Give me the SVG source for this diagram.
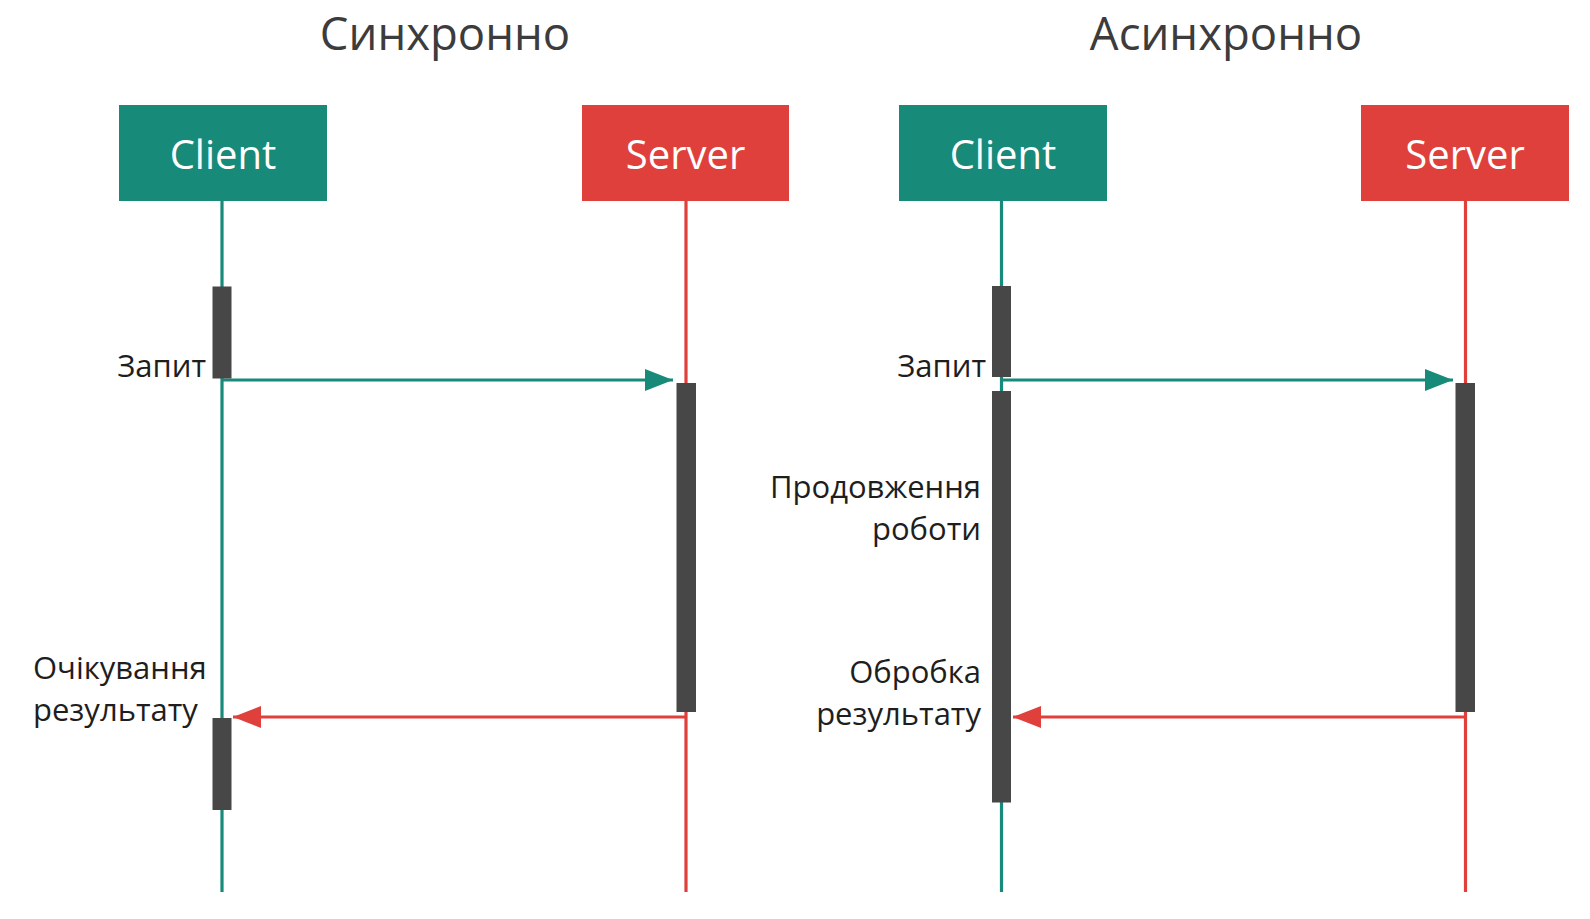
<svg xmlns="http://www.w3.org/2000/svg" width="1590" height="919" viewBox="0 0 1590 919">
<defs>
<style>
.title{font-family:"Open Sans","Noto Sans",sans-serif;font-size:45.5px;fill:#3c3c3c;text-anchor:middle}
.hdr{font-family:"Open Sans","Noto Sans",sans-serif;font-size:40px;fill:#ffffff;text-anchor:middle}
.lbl{font-family:"Open Sans","Noto Sans",sans-serif;font-size:31px;fill:#1e1e1e}
.r{text-anchor:end}
.client{fill:#178a7a}
.server{fill:#e0403c}
.bar{fill:#474747}
.lc{stroke:#178a7a;stroke-width:3.2;fill:none}
.ls{stroke:#e0403c;stroke-width:3.2;fill:none}
</style>
<marker id="ah-t" viewBox="0 0 28 22" refX="28" refY="11" markerWidth="28" markerHeight="22" markerUnits="userSpaceOnUse" orient="auto">
<path d="M0,0 L28,11 L0,22 Z" fill="#178a7a"/>
</marker>
<marker id="ah-r" viewBox="0 0 28 22" refX="28" refY="11" markerWidth="28" markerHeight="22" markerUnits="userSpaceOnUse" orient="auto">
<path d="M0,0 L28,11 L0,22 Z" fill="#e0403c"/>
</marker>
</defs>
<rect width="1590" height="919" fill="#ffffff"/>

<text class="title" x="445" y="50">Синхронно</text>
<text class="title" x="1226" y="50">Асинхронно</text>

<g id="lifelines">
<line class="lc" x1="222" y1="201" x2="222" y2="892"/>
<line class="ls" x1="686" y1="201" x2="686" y2="892"/>
<line class="lc" x1="1001.5" y1="201" x2="1001.5" y2="892"/>
<line class="ls" x1="1465.5" y1="201" x2="1465.5" y2="892"/>
</g>

<g id="connectors">
<line class="lc" x1="222" y1="380" x2="673" y2="380" marker-end="url(#ah-t)"/>
<line class="ls" x1="686" y1="717" x2="233" y2="717" marker-end="url(#ah-r)"/>
<line class="lc" x1="1001.5" y1="380" x2="1453" y2="380" marker-end="url(#ah-t)"/>
<line class="ls" x1="1465.5" y1="717" x2="1013" y2="717" marker-end="url(#ah-r)"/>
</g>

<g id="sync-client">
<rect class="client" x="119" y="105" width="208" height="96"/>
<text class="hdr" x="223" y="169">Client</text>
</g>
<g id="sync-server">
<rect class="server" x="582" y="105" width="207" height="96"/>
<text class="hdr" x="685.5" y="169">Server</text>
</g>
<g id="async-client">
<rect class="client" x="899" y="105" width="208" height="96"/>
<text class="hdr" x="1003" y="169">Client</text>
</g>
<g id="async-server">
<rect class="server" x="1361" y="105" width="208" height="96"/>
<text class="hdr" x="1465" y="169">Server</text>
</g>

<g id="sync-bars">
<rect class="bar" x="212.5" y="286.5" width="19" height="92"/>
<rect class="bar" x="676.5" y="383" width="19.5" height="329"/>
<rect class="bar" x="212.5" y="718" width="19" height="92"/>
</g>
<g id="async-bars">
<rect class="bar" x="992" y="286" width="19" height="91"/>
<rect class="bar" x="992" y="391" width="19" height="411.5"/>
<rect class="bar" x="1455.5" y="383" width="19.5" height="329"/>
</g>

<g id="sync-labels">
<text class="lbl r" x="206" y="377">Запит</text>
<text class="lbl" x="33" y="679">Очікування</text>
<text class="lbl" x="33" y="721">результату</text>
</g>
<g id="async-labels">
<text class="lbl r" x="986" y="377">Запит</text>
<text class="lbl r" x="981" y="498">Продовження</text>
<text class="lbl r" x="981" y="540">роботи</text>
<text class="lbl r" x="981" y="683">Обробка</text>
<text class="lbl r" x="981" y="725">результату</text>
</g>
</svg>
